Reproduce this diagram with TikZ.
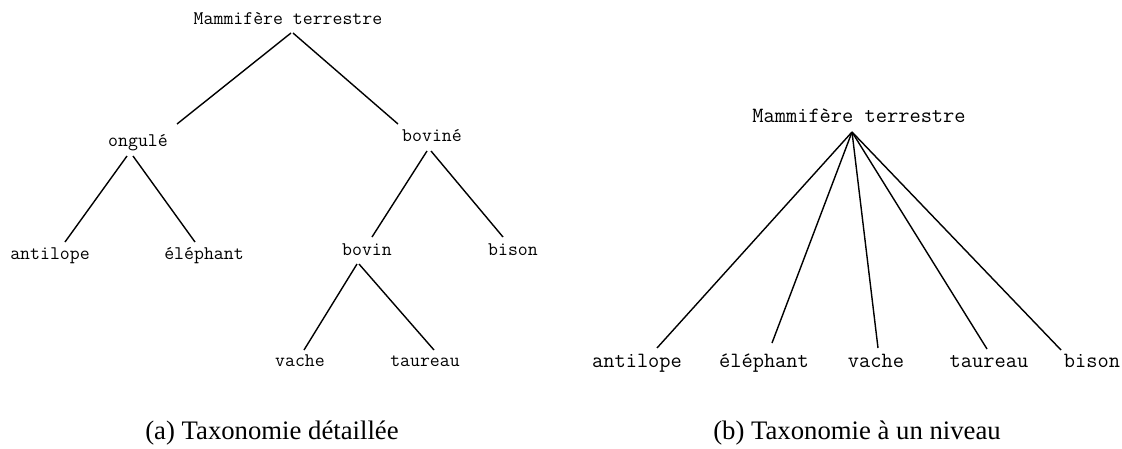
\documentclass[tikz,border=0pt]{standalone}
\usepackage{fontspec}
\setmainfont{Liberation Serif}
\usepackage{tikz}
\usetikzlibrary{calc}

\begin{document}
\begin{tikzpicture}[x=0.025cm,y=-0.025cm,
      every node/.style={anchor=base,inner sep=0pt},
      termA/.style={font=\ttfamily\fontsize{13.7}{16}\selectfont},
      termB/.style={font=\ttfamily\fontsize{15.5}{18}\selectfont},
      capt/.style={font=\fontsize{19}{22}\selectfont},
      branch/.style={line width=1pt}]
    \useasboundingbox (0,0) rectangle (1122,448);
    % (a) detailed taxonomy
    \node[termA] (rootA) at (288,24) {Mammifère terrestre};
    \node[termA] (ongule) at (138,146) {ongulé};
    \node[termA] (bovine) at (432,141) {boviné};
    \node[termA] (antilopeA) at (50,259) {antilope};
    \node[termA] (elephantA) at (204,259) {éléphant};
    \node[termA] (bovin) at (367,255) {bovin};
    \node[termA] (bisonA) at (513,255) {bison};
    \node[termA] (vacheA) at (300,366) {vache};
    \node[termA] (taureauA) at (425,366) {taureau};
    \foreach \a/\b/\p/\q/\r/\s in {rootA/ongule/3/9/39/-22,
        rootA/bovine/5/9/-34/-17,
        ongule/antilopeA/-11/10/15/-17, ongule/elephantA/-5/10/-9/-17,
        bovine/bovin/-5/10/5/-18, bovine/bisonA/-1/10/-10/-18,
        bovin/vacheA/-10/9/4/-16, bovin/taureauA/-8/9/9/-16}
      \draw[branch] ($(\a.base)+(\p,\q)$) -- ($(\b.base)+(\r,\s)$);
    \node[capt] (captA) at (272,439) {(a) Taxonomie détaillée};
    % (b) one-level taxonomy
    \node[termB] (rootB) at (859,122) {Mammifère terrestre};
    \foreach \n/\x/\t/\r/\s in {antilopeB/637/antilope/20/-19,
        elephantB/764/éléphant/8/-24, vacheB/876/vache/2/-19,
        taureauB/989/taureau/-2/-18, bisonB/1092/bison/-31/-17}
    {
      \node[termB] (\n) at (\x,367) {\t};
      \draw[branch] ($(rootB.base)+(-7,10)$) -- ($(\n.base)+(\r,\s)$);
    }
    \node[capt] (captB) at (857,439) {(b) Taxonomie à un niveau};
  \end{tikzpicture}
\end{document}
